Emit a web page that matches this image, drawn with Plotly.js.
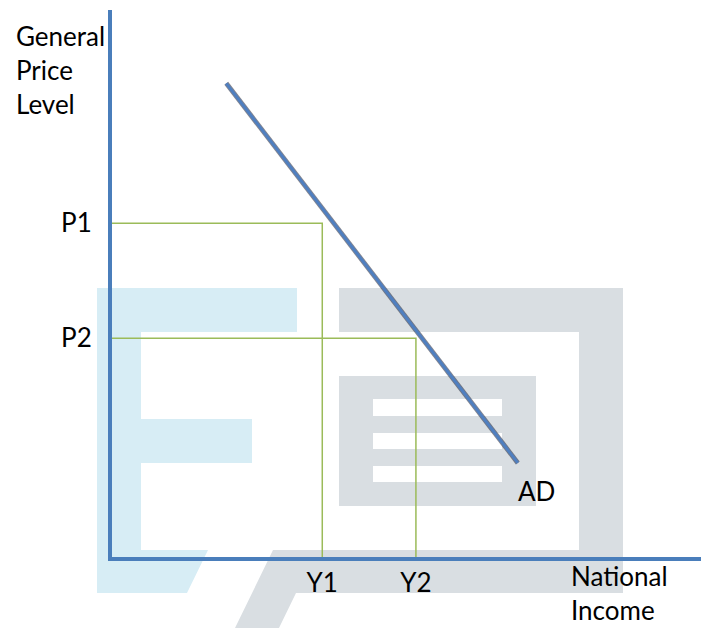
<!DOCTYPE html>
<html>
<head>
<meta charset="utf-8">
<script src="https://cdn.plot.ly/plotly-3.0.1.min.js"></script>
<style>html,body{margin:0;padding:0;background:#fff;}#chart{width:701px;height:628px;}</style>
</head>
<body>
<div id="chart"></div>
<script>
// ---- chart values (axis units: 0..100 on each axis) ----
var incomeLabels = ['Y1', 'Y2'];
var incomeValues = [35.7, 51.6];
var priceLabels = ['P1', 'P2'];
var priceValues = [61.0, 40.0];
var adIncome = [19.4, 68.9];
var adPrice = [86.6, 17.2];
var curveLabel = 'AD';
var yTitleLines = ['General', 'Price', 'Level'];
var xTitleLines = ['National', 'Income'];

// ---- layout helpers (pixel -> paper) ----
var W = 701, H = 628;
var M = {l: 112, r: 0, t: 10, b: 71};
var PW = W - M.l - M.r, PH = H - M.t - M.b;
function px(x) { return (x - M.l) / PW; }
function py(y) { return (H - M.b - y) / PH; }
function pathOf(pts) {
  return pts.map(function (p, i) { return (i ? 'L' : 'M') + px(p[0]).toFixed(5) + ',' + py(p[1]).toFixed(5); }).join(' ') + ' Z';
}
function rectOf(x0, y0, x1, y1, color) {
  return {type: 'rect', xref: 'paper', yref: 'paper', layer: 'below',
    x0: px(x0), x1: px(x1), y0: py(y1), y1: py(y0),
    fillcolor: color, line: {width: 0}};
}
var lightBlue = '#d7edf5', lightGray = '#d9dee2';
var shapes = [
  {type: 'path', xref: 'paper', yref: 'paper', layer: 'below', fillcolor: lightBlue, line: {width: 0},
   path: pathOf([[97,288],[297,288],[297,332],[141,332],[141,419],[252,419],[252,463],[141,463],[141,550],[208,550],[187,593],[97,593]])},
  {type: 'path', xref: 'paper', yref: 'paper', layer: 'below', fillcolor: lightGray, line: {width: 0},
   path: pathOf([[339,288],[623,288],[623,593],[296,593],[279,628],[235,628],[273,550],[579,550],[579,332],[339,332]])},
  rectOf(339, 376, 536, 506, lightGray),
  rectOf(373, 399, 502, 416, '#ffffff'),
  rectOf(373, 433, 502, 449, '#ffffff'),
  rectOf(373, 466, 502, 482, '#ffffff')
];

var guideColor = '#9bbb59';
var traces = [];
for (var i = 0; i < incomeValues.length; i++) {
  traces.push({
    x: [0, incomeValues[i], incomeValues[i]],
    y: [priceValues[i], priceValues[i], 0],
    mode: 'lines', line: {color: guideColor, width: 1.5},
    hoverinfo: 'skip', showlegend: false
  });
}
traces.push({x: adIncome, y: adPrice, mode: 'lines',
  line: {color: 'rgba(45,50,70,0.6)', width: 4.8}, hoverinfo: 'skip', showlegend: false});
traces.push({x: adIncome, y: adPrice, mode: 'lines', name: curveLabel,
  line: {color: '#4f7fc0', width: 3}, showlegend: false});

var font = {family: 'Lato, "Open Sans", sans-serif', size: 26, color: '#000'};
var layout = {
  width: W, height: H,
  margin: M,
  paper_bgcolor: '#fff', plot_bgcolor: 'rgba(0,0,0,0)',
  showlegend: false,
  font: font,
  xaxis: {range: [0, 100], showgrid: false, zeroline: false, showline: true,
    linecolor: '#4a7ebb', linewidth: 4, ticks: '',
    tickvals: incomeValues, ticktext: incomeLabels, tickfont: font, fixedrange: true},
  yaxis: {range: [0, 100], showgrid: false, zeroline: false, showline: true,
    linecolor: '#4a7ebb', linewidth: 4, ticks: '', ticklabelstandoff: 11,
    tickvals: priceValues, ticktext: priceLabels, tickfont: font, fixedrange: true},
  shapes: shapes,
  annotations: [
    {xref: 'paper', yref: 'paper', x: px(14), y: py(70), xanchor: 'left', yanchor: 'middle',
     text: yTitleLines.join('<br>'), align: 'left', showarrow: false, font: font},
    {xref: 'paper', yref: 'paper', x: px(570), y: py(627), xanchor: 'left', yanchor: 'bottom',
     borderpad: 0, text: xTitleLines.join('<br>'), align: 'left', showarrow: false, font: font},
    {xref: 'x', yref: 'y', x: adIncome[1], y: adPrice[1], xanchor: 'left', yanchor: 'top',
     xshift: -2, yshift: -10, text: curveLabel, showarrow: false, font: font}
  ]
};
Plotly.newPlot('chart', traces, layout, {displayModeBar: false, staticPlot: true});
</script>
</body>
</html>
